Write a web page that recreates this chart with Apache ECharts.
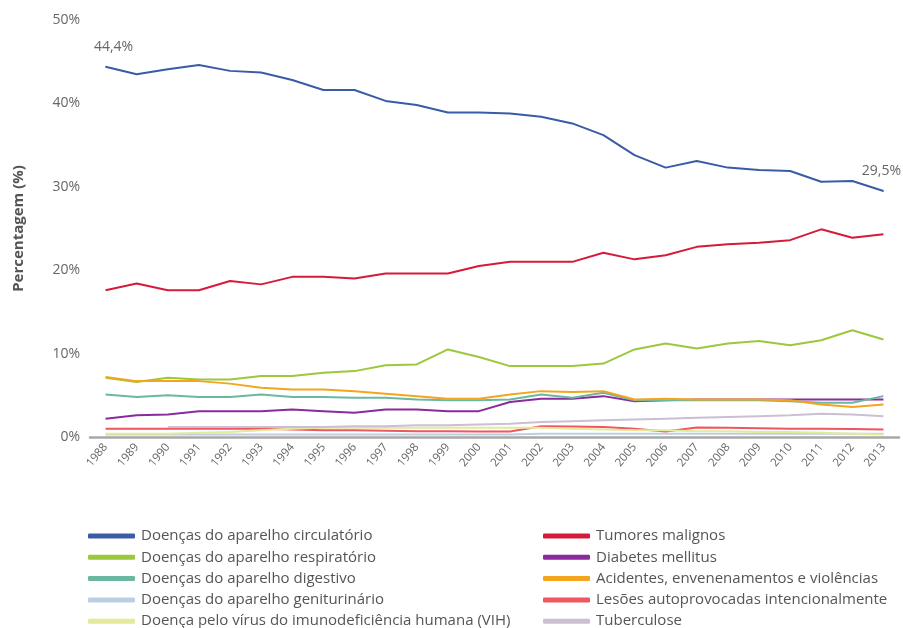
<!DOCTYPE html>
<html lang="pt">
<head>
    <meta charset="utf-8" />
    <script src="https://cdn.jsdelivr.net/npm/echarts@6/dist/echarts.min.js"></script>
    <style>
        html, body { margin: 0; padding: 0; background: #fff; }
        #chart { width: 903px; height: 628px; }
    </style>
</head>
<body>
<div id="chart"></div>

<script>
    // anos
    var years = ["1988", "1989", "1990", "1991", "1992", "1993", "1994", "1995", "1996", "1997",
        "1998", "1999", "2000", "2001", "2002", "2003", "2004", "2005", "2006", "2007",
        "2008", "2009", "2010", "2011", "2012", "2013"];

    var yTicks = [0, 10, 20, 30, 40, 50];

    // % de óbitos por causa
    var circulatorio = [44.4, 43.5, 44.1, 44.6, 43.9, 43.7, 42.8, 41.6, 41.6, 40.3, 39.8, 38.9, 38.9, 38.8, 38.4, 37.6, 36.2, 33.8, 32.3, 33.1, 32.3, 32.0, 31.9, 30.6, 30.7, 29.5];
    var tumores = [17.6, 18.4, 17.6, 17.6, 18.7, 18.3, 19.2, 19.2, 19.0, 19.6, 19.6, 19.6, 20.5, 21.0, 21.0, 21.0, 22.1, 21.3, 21.8, 22.8, 23.1, 23.3, 23.6, 24.9, 23.9, 24.3];
    var respiratorio = [7.1, 6.6, 7.1, 6.9, 6.9, 7.3, 7.3, 7.7, 7.9, 8.6, 8.7, 10.5, 9.6, 8.5, 8.5, 8.5, 8.8, 10.5, 11.2, 10.6, 11.2, 11.5, 11.0, 11.6, 12.8, 11.7];
    var diabetes = [2.2, 2.6, 2.7, 3.1, 3.1, 3.1, 3.3, 3.1, 2.9, 3.3, 3.3, 3.1, 3.1, 4.2, 4.6, 4.6, 4.9, 4.3, 4.4, 4.5, 4.5, 4.5, 4.5, 4.5, 4.5, 4.5];
    var digestivo = [5.1, 4.8, 5.0, 4.8, 4.8, 5.1, 4.8, 4.8, 4.7, 4.7, 4.5, 4.4, 4.4, 4.5, 5.1, 4.7, 5.3, 4.4, 4.4, 4.4, 4.4, 4.4, 4.3, 4.1, 4.1, 4.9];
    var acidentes = [7.2, 6.7, 6.7, 6.7, 6.4, 5.9, 5.7, 5.7, 5.5, 5.2, 4.9, 4.6, 4.6, 5.1, 5.5, 5.4, 5.5, 4.5, 4.6, 4.5, 4.5, 4.5, 4.4, 3.9, 3.6, 3.9];
    var geniturinario = [0.3, 0.3, 0.3, 0.3, 0.3, 0.3, 0.3, 0.3, 0.3, 0.3, 0.3, 0.3, 0.3, 0.3, 0.4, 0.4, 0.4, 0.4, 0.4, 0.4, 0.4, 0.4, 0.4, 0.4, 0.4, 0.4];
    var lesoes = [1.0, 1.0, 1.0, 1.0, 1.0, 1.0, 0.9, 0.8, 0.8, 0.75, 0.7, 0.7, 0.65, 0.65, 1.3, 1.25, 1.2, 1.0, 0.65, 1.15, 1.1, 1.05, 1.0, 1.0, 0.95, 0.9];
    var vih = [0.4, 0.4, 0.4, 0.5, 0.6, 0.8, 1.0, 1.1, 1.1, 1.1, 1.1, 1.1, 1.1, 1.1, 1.1, 1.0, 0.9, 0.8, 0.8, 0.7, 0.7, 0.6, 0.6, 0.5, 0.4, 0.3];
    var tuberculose = [null, null, 1.2, 1.2, 1.2, 1.2, 1.2, 1.2, 1.3, 1.3, 1.4, 1.4, 1.5, 1.6, 1.8, 1.9, 2.0, 2.1, 2.2, 2.3, 2.4, 2.5, 2.6, 2.8, 2.7, 2.5];

    var names = {
        circ: "Doenças do aparelho circulatório",
        tum: "Tumores malignos",
        resp: "Doenças do aparelho respiratório",
        diab: "Diabetes mellitus",
        dig: "Doenças do aparelho digestivo",
        acid: "Acidentes, envenenamentos e violências",
        gen: "Doenças do aparelho geniturinário",
        les: "Lesões autoprovocadas intencionalmente",
        vih: "Doença pelo vírus do imunodeficiência humana (VIH)",
        tub: "Tuberculose"
    };

    var FONT = "'Open Sans', 'Noto Sans', sans-serif";

    function mkLine(name, data, color, width) {
        return {
            name: name,
            type: "line",
            data: data,
            symbol: "none",
            smooth: false,
            lineStyle: { color: color, width: width || 2 },
            itemStyle: { color: color },
            emphasis: { disabled: true }
        };
    }

    // rótulos no início e no fim da série principal
    function pctLabel(p) { return String(p.value).replace(".", ",") + "%"; }
    var circData = circulatorio.map(function (v, i) {
        if (i === 0 || i === circulatorio.length - 1) {
            return {
                value: v,
                label: {
                    show: true, position: "top", distance: 12,
                    offset: i === 0 ? [8, 0] : [-2, 0],
                    color: "#666", fontSize: 14, fontFamily: FONT,
                    formatter: pctLabel
                }
            };
        }
        return v;
    });

    var circSeries = mkLine(names.circ, circData, "#3a5ca6", 2);
    circSeries.symbol = "circle";
    circSeries.symbolSize = 1;
    circSeries.showAllSymbol = true;

    var series = [
        circSeries,
        mkLine(names.tum, tumores, "#d61a3c", 2),
        mkLine(names.resp, respiratorio, "#9bc83c", 2),
        mkLine(names.diab, diabetes, "#8b2a9c", 2),
        mkLine(names.dig, digestivo, "#6bb8a2", 2),
        mkLine(names.acid, acidentes, "#f4a51f", 2),
        mkLine(names.gen, geniturinario, "#bccfe2", 2),
        mkLine(names.les, lesoes, "#ee5662", 2),
        mkLine(names.vih, vih, "#e4e99c", 2),
        mkLine(names.tub, tuberculose, "#cbbfd4", 2)
    ];

    var legendBase = {
        orient: "vertical",
        top: 528,
        height: 140,
        padding: 0,
        icon: "roundRect",
        itemWidth: 47,
        itemHeight: 5,
        itemGap: 5.3,
        selectedMode: false,
        textStyle: { color: "#555", fontSize: 15, fontFamily: FONT, lineHeight: 16, padding: [0, 0, 0, 1] }
    };

    var option = {
        backgroundColor: "#fff",
        animation: false,
        grid: { left: 90, right: 4, top: 20, bottom: 191 },
        legend: [
            Object.assign({}, legendBase, { left: 88, data: [names.circ, names.resp, names.dig, names.gen, names.vih] }),
            Object.assign({}, legendBase, { left: 543, data: [names.tum, names.diab, names.acid, names.les, names.tub] })
        ],
        xAxis: {
            type: "category",
            data: years,
            boundaryGap: true,
            axisLine: { show: true, lineStyle: { color: "#a8a8a8", width: 2.5 } },
            axisTick: { show: false },
            axisLabel: {
                rotate: 50, interval: 0, margin: 8,
                color: "#666", fontSize: 11.5, fontFamily: FONT
            },
            splitLine: { show: false }
        },
        yAxis: {
            type: "value",
            min: yTicks[0],
            max: yTicks[yTicks.length - 1],
            interval: 10,
            name: "Percentagem (%)",
            nameLocation: "middle",
            nameGap: 64,
            nameTextStyle: { color: "#555", fontSize: 15, fontWeight: "bold", fontFamily: FONT },
            axisLine: { show: false },
            axisTick: { show: false },
            splitLine: { show: false },
            axisLabel: { color: "#666", fontSize: 14, fontFamily: FONT, margin: 10, formatter: "{value}%" }
        },
        series: series
    };

    var chart = echarts.init(document.getElementById("chart"), null, { renderer: "canvas" });
    chart.setOption(option);
</script>
</body>
</html>
